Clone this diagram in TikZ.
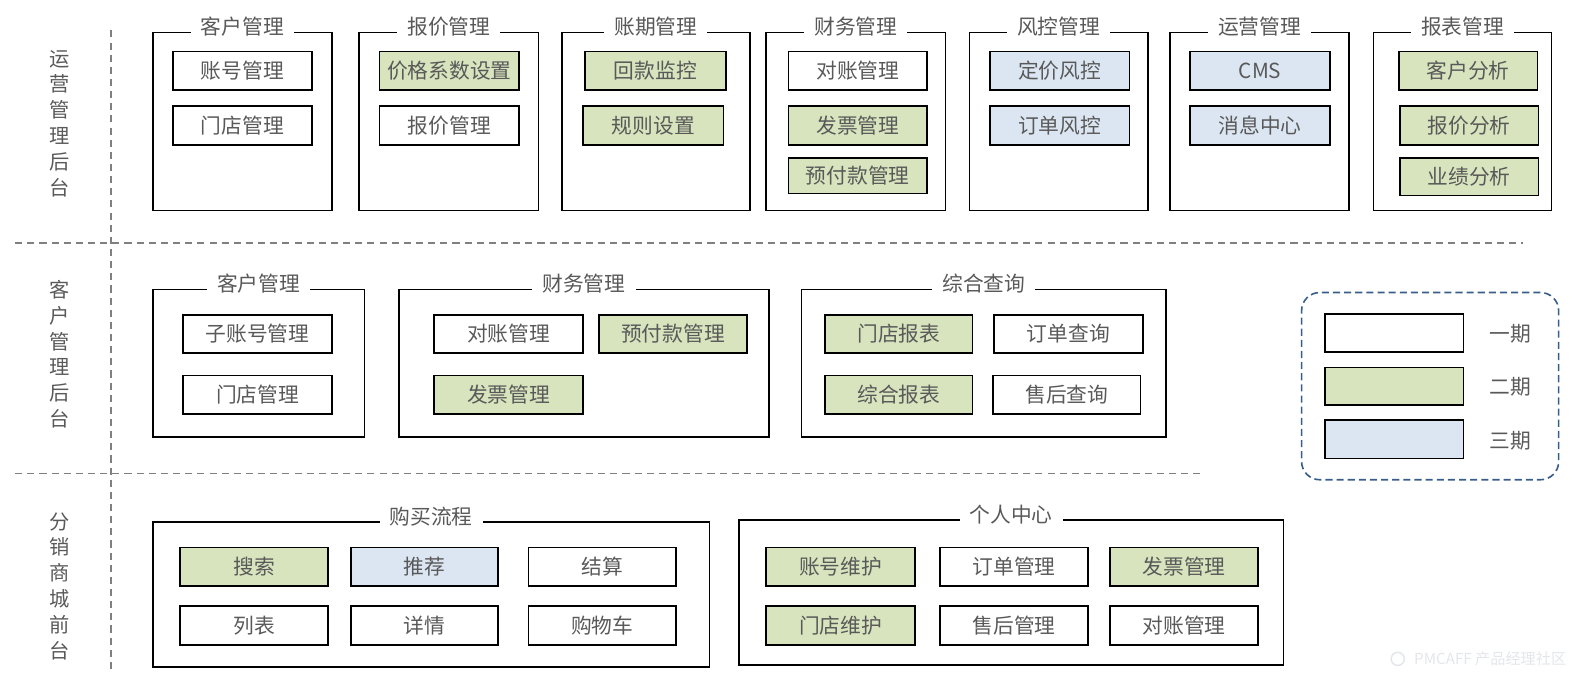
\documentclass[tikz,border=0pt]{standalone}
\usepackage{fontspec}
\setmainfont{Noto Sans CJK SC}
\usetikzlibrary{fit}
\definecolor{txt}{HTML}{595959}
\definecolor{grnf}{HTML}{D7E4BD}
\definecolor{bluf}{HTML}{DCE6F2}
\definecolor{legc}{HTML}{385D8A}
\definecolor{sepc}{HTML}{808080}
\definecolor{wmc}{HTML}{E3E6EB}
\newcommand\fnt{\fontsize{20.5}{24}\selectfont}
\newcommand\bx[4]{\node[#1, fit={#2}] (#3) {}; \node[itxt] (#3t) at (#3.center) {#4};}
\begin{document}
\begin{tikzpicture}[x=1pt,y=-1pt,
  item/.style={draw=black, line width=1.6pt, inner sep=0pt},
  grn/.style={item, fill=grnf},
  blu/.style={item, fill=bluf},
  itxt/.style={inner sep=0pt, text=txt, font=\fnt, text height=18pt, text depth=2.5pt},
  grp/.style={draw=black, line width=1.6pt, inner sep=0pt},
  ttl/.style={fill=white, inner xsep=10pt, inner ysep=0pt, text=txt, font=\fnt, text height=18pt, text depth=2.5pt},
  lab/.style={align=center, inner sep=0pt, text=txt, font=\fontsize{20}{25.5}\selectfont},
  sepline/.style={draw=sepc, line width=1.5pt, dash pattern=on 7pt off 5pt},
  leglab/.style={itxt}]
\useasboundingbox (0,0) rectangle (1568,671);

% separators
\coordinate (v1) at (109.5,30); \coordinate (v2) at (109.5,662);
\coordinate (h1a) at (15,240); \coordinate (h1b) at (1505,240);
\coordinate (h2a) at (15,468); \coordinate (h2b) at (1187,468);
\draw[sepline] (v1) -- (v2);
\draw[sepline] (h1a) -- (h1b);
\draw[sepline] (h2a) -- (h2b);

% row labels
\node[lab] (r1) at (59,122) {运\\营\\管\\理\\后\\台};
\node[lab] (r2) at (59,350) {客\\户\\管\\理\\后\\台};
\node[lab] (r3) at (59,579) {分\\销\\商\\城\\前\\台};

% ---------- top row groups ----------
\node[grp, fit={(151,32) (328,208)}] (g1) {};
\node[grp, fit={(355,32) (532,208)}] (g2) {};
\node[grp, fit={(555,32) (741,208)}] (g3) {};
\node[grp, fit={(757,32) (934,208)}] (g4) {};
\node[grp, fit={(958,32) (1134,208)}] (g5) {};
\node[grp, fit={(1156,32) (1333,208)}] (g6) {};
\node[grp, fit={(1357,32) (1533,208)}] (g7) {};
\node[ttl] (t1) at ([yshift=5pt]g1.north) {客户管理};
\node[ttl] (t2) at ([yshift=5pt]g2.north) {报价管理};
\node[ttl] (t3) at ([yshift=5pt]g3.north) {账期管理};
\node[ttl] (t4) at ([yshift=5pt]g4.north) {财务管理};
\node[ttl] (t5) at ([yshift=5pt]g5.north) {风控管理};
\node[ttl] (t6) at ([yshift=5pt]g6.north) {运营管理};
\node[ttl] (t7) at ([yshift=5pt]g7.north) {报表管理};

\bx{item}{(171,51) (308,89)}{a1}{账号管理}
\bx{item}{(171,105) (308,143)}{a2}{门店管理}
\bx{grn}{(375,51) (513,89)}{b1}{价格系数设置}
\bx{item}{(375,105) (513,143)}{b2}{报价管理}
\bx{grn}{(578,51) (717,89)}{c1}{回款监控}
\bx{grn}{(576,105) (715,143)}{c2}{规则设置}
\bx{item}{(779,51) (916,89)}{d1}{对账管理}
\bx{grn}{(779,105) (916,143)}{d2}{发票管理}
\bx{grn}{(779,156) (916,191)}{d3}{预付款管理}
\bx{blu}{(978,51) (1116,89)}{e1}{定价风控}
\bx{blu}{(978,105) (1116,143)}{e2}{订单风控}
\bx{blu}{(1176,51) (1314,89)}{f1}{CMS}
\bx{blu}{(1176,105) (1314,143)}{f2}{消息中心}
\bx{grn}{(1382,51) (1519,89)}{k1}{客户分析}
\bx{grn}{(1383,105) (1520,143)}{k2}{报价分析}
\bx{grn}{(1383,156) (1520,193)}{k3}{业绩分析}

% ---------- middle row ----------
\node[grp, fit={(151,286) (360,432)}] (m1) {};
\node[grp, fit={(394,286) (760,432)}] (m2) {};
\node[grp, fit={(792,286) (1152,432)}] (m3) {};
\node[ttl] (mt1) at ([yshift=5pt]m1.north) {客户管理};
\node[ttl] (mt2) at ([yshift=5pt]m2.north) {财务管理};
\node[ttl] (mt3) at ([yshift=5pt]m3.north) {综合查询};

\bx{item}{(181,311) (328,349)}{ma1}{子账号管理}
\bx{item}{(181,371) (328,409)}{ma2}{门店管理}
\bx{item}{(429,311) (576,349)}{mb1}{对账管理}
\bx{grn}{(592,311) (738,349)}{mb2}{预付款管理}
\bx{grn}{(429,371) (576,409)}{mb3}{发票管理}
\bx{grn}{(815,311) (961,349)}{mc1}{门店报表}
\bx{item}{(982,311) (1129,349)}{mc2}{订单查询}
\bx{grn}{(815,371) (961,409)}{mc3}{综合报表}
\bx{item}{(981,371) (1127,409)}{mc4}{售后查询}

% ---------- bottom row ----------
\node[grp, fit={(151,516) (701,659)}] (n1) {};
\node[grp, fit={(730,514) (1268,657)}] (n2) {};
\node[ttl] (nt1) at ([yshift=5pt]n1.north) {购买流程};
\node[ttl] (nt2) at ([yshift=5pt]n2.north) {个人中心};

\bx{grn}{(178,541) (324,579)}{na1}{搜索}
\bx{blu}{(347,541) (492,579)}{na2}{推荐}
\bx{item}{(522,541) (668,579)}{na3}{结算}
\bx{item}{(178,599) (324,637)}{na4}{列表}
\bx{item}{(347,599) (492,637)}{na5}{详情}
\bx{item}{(522,599) (668,637)}{na6}{购物车}
\bx{grn}{(757,541) (904,579)}{nb1}{账号维护}
\bx{item}{(929,541) (1075,579)}{nb2}{订单管理}
\bx{grn}{(1097,541) (1243,579)}{nb3}{发票管理}
\bx{grn}{(757,599) (904,637)}{nb4}{门店维护}
\bx{item}{(929,599) (1075,637)}{nb5}{售后管理}
\bx{item}{(1097,599) (1243,637)}{nb6}{对账管理}

% ---------- legend ----------
\node[draw=legc, line width=1.6pt, dash pattern=on 7pt off 4pt, rounded corners=18pt, inner sep=0pt, fit={(1286,289) (1540,474)}] (leg) {};
\node[item, fill=white, fit={(1309,310) (1446,348)}] (lg1) {};
\node[grn, fit={(1309,363) (1446,400)}] (lg2) {};
\node[blu, fit={(1309,415) (1446,453)}] (lg3) {};
\node[leglab] (ll1) at (1492,330) {一期};
\node[leglab] (ll2) at (1492,382) {二期};
\node[leglab] (ll3) at (1492,435) {三期};

% ---------- watermark ----------
\node[circle, draw=wmc, line width=1.5pt, minimum size=13pt, inner sep=0pt] (wmi) at (1381,651) {};
\node[anchor=west, text=wmc, font=\fontsize{15}{15}\selectfont, inner sep=0pt] (wm) at (1397,651) {PMCAFF 产品经理社区};
\end{tikzpicture}
\end{document}
